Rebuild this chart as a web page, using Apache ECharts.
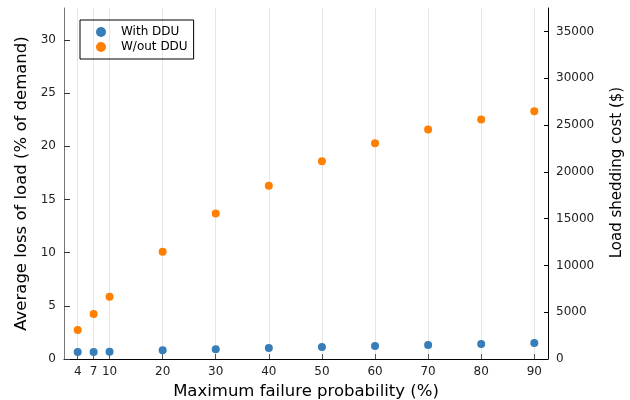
<!DOCTYPE html>
<html>
<head>
<meta charset="utf-8">
<script src="https://cdn.jsdelivr.net/npm/echarts@6/dist/echarts.min.js"></script>
<style>
html, body { margin: 0; padding: 0; background: #fff; }
#chart { width: 630px; height: 400px; }
</style>
</head>
<body>
<div id="chart"></div>
<script>
// failure probability (%)
var probs = [4, 7, 10, 20, 30, 40, 50, 60, 70, 80, 90];
// average loss of load (% of demand)
var withDDU = [0.66, 0.66, 0.69, 0.82, 0.91, 1.03, 1.13, 1.22, 1.32, 1.41, 1.50];
var withoutDDU = [2.73, 4.23, 5.86, 10.09, 13.67, 16.30, 18.60, 20.29, 21.57, 22.51, 23.30];
var leftTicks = [0, 5, 10, 15, 20, 25, 30];
var rightTicks = [0, 5000, 10000, 15000, 20000, 25000, 30000, 35000];

function pairs(xs, ys) {
    return xs.map(function (x, i) { return [x, ys[i]]; });
}

var font = 'DejaVu Sans';
var myChart = echarts.init(document.getElementById('chart'));

var option = {
    animation: false,
    textStyle: { fontFamily: font },
    grid: { left: 64, right: 82, top: 8, bottom: 41, outerBoundsMode: 'none', containLabel: false },
    legend: {
        left: 80, top: 20,
        orient: 'vertical',
        data: ['With DDU', 'W/out DDU'],
        icon: 'circle',
        itemWidth: 10, itemHeight: 10, itemGap: 3,
        padding: [6, 6, 6, 16],
        borderColor: '#000', borderWidth: 1, borderRadius: 0,
        textStyle: { fontFamily: font, fontSize: 12, color: '#000', padding: [0, 0, 0, 10] }
    },
    xAxis: {
        type: 'value',
        min: 1.42, max: 92.58,
        name: 'Maximum failure probability (%)',
        nameLocation: 'middle', nameGap: 24,
        nameTextStyle: { fontSize: 16.5, color: '#000', fontFamily: font },
        axisLine: { lineStyle: { color: '#000', width: 1 } },
        axisTick: { inside: true, length: 5, customValues: probs, lineStyle: { color: '#555' } },
        axisLabel: { customValues: probs, fontSize: 12, color: '#222', margin: 7 },
        splitLine: { show: true, lineStyle: { color: '#e6e6e6', width: 1 } }
    },
    yAxis: [{
        type: 'value',
        min: 0, max: 33,
        name: 'Average loss of load (% of demand)',
        nameLocation: 'middle', nameGap: 31,
        nameTextStyle: { fontSize: 16.5, color: '#000', fontFamily: font },
        axisLine: { show: true, lineStyle: { color: '#777', width: 1 } },
        axisTick: { show: true, inside: true, length: 6, customValues: leftTicks, lineStyle: { color: '#333' } },
        axisLabel: { customValues: leftTicks, fontSize: 12, color: '#222', margin: 8 },
        splitLine: { show: false }
    }, {
        type: 'value',
        min: 0, max: 37500,
        position: 'right',
        name: 'Load shedding cost ($)',
        nameLocation: 'middle', nameGap: 62,
        nameTextStyle: { fontSize: 15, color: '#000', fontFamily: font, padding: [0, 0, 0, 22] },
        axisLine: { show: true, lineStyle: { color: '#000', width: 1 } },
        axisTick: { show: true, inside: true, length: 4, customValues: rightTicks, lineStyle: { color: '#000' } },
        axisLabel: {
            customValues: rightTicks, fontSize: 12, color: '#222', margin: 8,
            formatter: function (v) { return String(v); }
        },
        splitLine: { show: false }
    }],
    series: [{
        name: 'With DDU',
        type: 'scatter',
        yAxisIndex: 0,
        symbolSize: 8,
        itemStyle: { color: '#377eb8', opacity: 1 },
        data: pairs(probs, withDDU)
    }, {
        name: 'W/out DDU',
        type: 'scatter',
        yAxisIndex: 0,
        symbolSize: 8,
        itemStyle: { color: '#ff7f00', opacity: 1 },
        data: pairs(probs, withoutDDU)
    }]
};

myChart.setOption(option);
</script>
</body>
</html>
